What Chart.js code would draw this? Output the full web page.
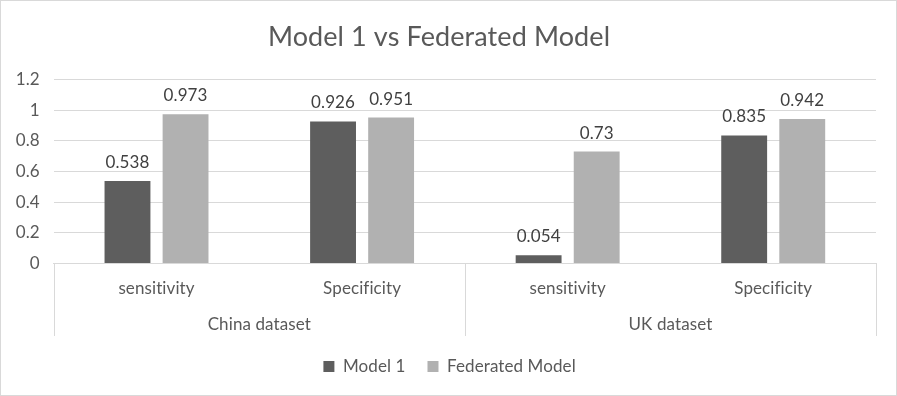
<!DOCTYPE html>
<html>
<head>
<meta charset="utf-8">
<script src="https://cdn.jsdelivr.net/npm/chart.js@4.4.1/dist/chart.umd.min.js"></script>
<style>
body{margin:0;background:#fff;}
#wrap{width:897px;height:396px;}
</style>
</head>
<body>
<div id="wrap"><canvas id="myChart" width="897" height="396"></canvas></div>
<script>
// data
const subLabels = ['sensitivity', 'Specificity', 'sensitivity', 'Specificity'];
const groupLabels = ['China dataset', 'UK dataset'];
const groupSizes = [2, 2];
const model1 = [0.538, 0.926, 0.054, 0.835];
const federated = [0.973, 0.951, 0.73, 0.942];
const yMin = 0;
const yMax = 1.2;
const yStep = 0.2;

const fontName = 'Lato, "Liberation Sans", sans-serif';
const axisColor = '#595959';
const gridColor = '#d9d9d9';

// no ligatures (Lato joins "ti" otherwise)
const noLig = {
  id: 'noLig',
  beforeDraw(chart) {
    chart.ctx.letterSpacing = '0.1px';
  }
};

// legend is centred on the whole canvas, not on the padded box
const legendCentre = {
  id: 'legendCentre',
  afterLayout(chart) {
    const lg = chart.legend;
    const pad = chart.options.layout.padding;
    lg.left -= pad.left;
    lg.right += pad.right;
  }
};

// frame round the whole chart
const frame = {
  id: 'frame',
  afterDraw(chart) {
    const ctx = chart.ctx;
    ctx.save();
    ctx.strokeStyle = gridColor;
    ctx.lineWidth = 1;
    ctx.strokeRect(0.5, 0.5, chart.width - 1, chart.height - 1);
    ctx.restore();
  }
};

// second row of the category axis: group names + dividers
const groupAxis = {
  id: 'groupAxis',
  afterDraw(chart) {
    const x = chart.scales.x;
    const ctx = chart.ctx;
    const step = x.width / subLabels.length;
    ctx.save();
    ctx.strokeStyle = gridColor;
    ctx.lineWidth = 1;
    ctx.fillStyle = axisColor;
    ctx.font = '17px ' + fontName;
    ctx.textAlign = 'center';
    ctx.textBaseline = 'middle';
    let start = 0;
    groupLabels.forEach((g, i) => {
      const left = x.getPixelForValue(start) - step / 2;
      const right = x.getPixelForValue(start + groupSizes[i] - 1) + step / 2;
      [left, right].forEach(px => {
        ctx.beginPath();
        ctx.moveTo(Math.round(px) + 0.5, x.top);
        ctx.lineTo(Math.round(px) + 0.5, x.bottom);
        ctx.stroke();
      });
      ctx.fillText(g, (left + right) / 2, x.bottom - 11);
      start += groupSizes[i];
    });
    ctx.restore();
  }
};

// value labels above the bars
const valueLabels = {
  id: 'valueLabels',
  afterDatasetsDraw(chart) {
    const ctx = chart.ctx;
    ctx.save();
    ctx.fillStyle = '#404040';
    ctx.font = '17px ' + fontName;
    ctx.textAlign = 'center';
    ctx.textBaseline = 'alphabetic';
    chart.data.datasets.forEach((ds, di) => {
      chart.getDatasetMeta(di).data.forEach((bar, i) => {
        ctx.fillText(String(ds.data[i]), bar.x, bar.y - 13);
      });
    });
    ctx.restore();
  }
};

const ctx = document.getElementById('myChart');
const myChart = new Chart(ctx, {
  type: 'bar',
  data: {
    labels: subLabels,
    datasets: [
      {
        label: 'Model 1',
        data: model1,
        backgroundColor: '#5e5e5e',
        categoryPercentage: 0.565,
        barPercentage: 0.79
      },
      {
        label: 'Federated Model',
        data: federated,
        backgroundColor: '#b1b1b1',
        categoryPercentage: 0.565,
        barPercentage: 0.79
      }
    ]
  },
  options: {
    responsive: false,
    animation: false,
    layout: {
      padding: { left: 2, right: 21, top: 8, bottom: 11 }
    },
    plugins: {
      title: {
        display: true,
        text: 'Model 1 vs Federated Model',
        color: axisColor,
        font: { family: fontName, size: 27, weight: 'normal' },
        padding: { top: 13, bottom: 26 }
      },
      legend: {
        position: 'bottom',
        labels: {
          color: axisColor,
          font: { family: fontName, size: 17 },
          boxWidth: 11,
          boxHeight: 11,
          padding: 22
        }
      },
      tooltip: { enabled: false }
    },
    scales: {
      x: {
        grid: { display: false, drawTicks: false },
        border: { display: true, color: gridColor },
        ticks: {
          color: axisColor,
          font: { family: fontName, size: 17 },
          padding: 15,
          maxRotation: 0
        },
        afterFit(scale) {
          scale.height += 22;
        }
      },
      y: {
        min: yMin,
        max: yMax,
        grid: { color: gridColor, drawTicks: false },
        border: { display: false },
        ticks: {
          stepSize: yStep,
          color: axisColor,
          font: { family: fontName, size: 17 },
          padding: 14,
          callback: v => String(Number(v.toFixed(1)))
        }
      }
    }
  },
  plugins: [noLig, legendCentre, valueLabels, groupAxis, frame]
});
</script>
</body>
</html>
